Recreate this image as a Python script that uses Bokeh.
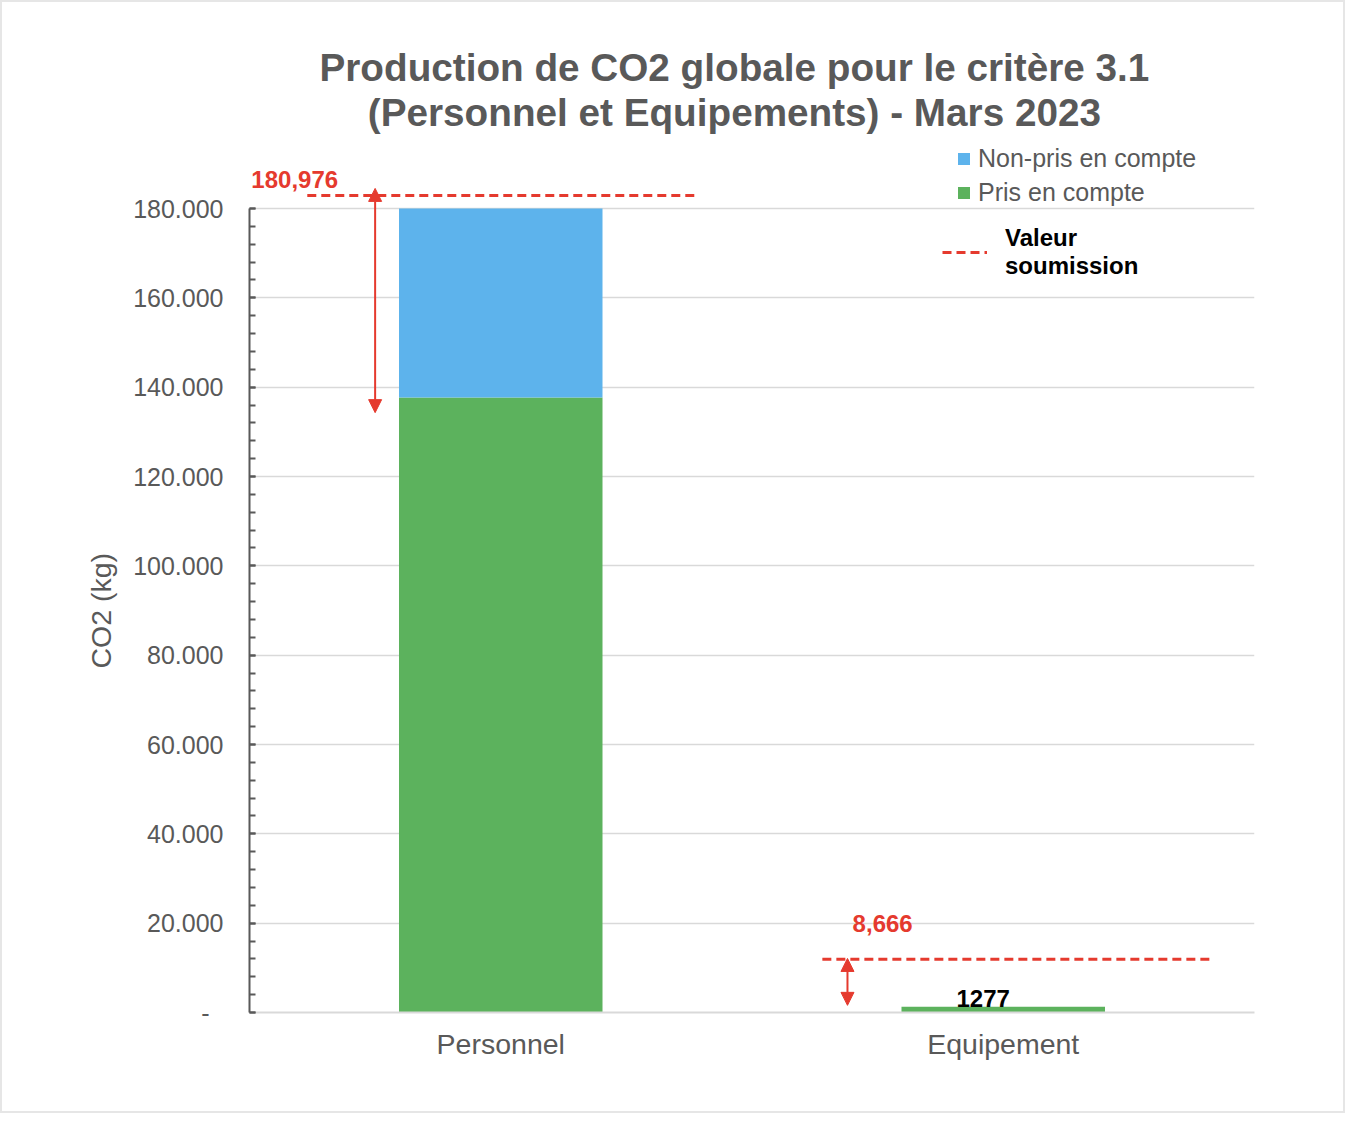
from bokeh.plotting import figure
from bokeh.models import (FactorRange, Range1d, FixedTicker, Legend, LegendItem,
                          Arrow, NormalHead, Label, ColumnDataSource, Title)
from bokeh.embed import file_html
from bokeh.resources import INLINE

# ---------------- data ----------------
categories = ["Personnel", "Equipement"]
pris_en_compte = [137700, 1277]
non_pris_en_compte = [42300, 0]
submission_labels = ["180,976", "8,666"]
submission_line_level = [182900, 11900]
arrow_top = [184500, 12100]
arrow_bottom = [134300, 1600]
y_ticks = [0, 20000, 40000, 60000, 80000, 100000, 120000, 140000, 160000, 180000]
y_tick_labels = ["-\u00a0\u00a0", "20.000", "40.000", "60.000", "80.000", "100.000",
                 "120.000", "140.000", "160.000", "180.000"]
y_minor_ticks = list(range(0, 180001, 4000))
bar_label = "1277"
title_lines = ["Production de CO2 globale pour le critère 3.1",
               "(Personnel et Equipements) - Mars 2023"]

# ---------------- style ----------------
FONT = "Liberation Sans"
GRAY = "#595959"
LIGHT = "#D9D9D9"
RED = "#E53A2E"
BLUE = "#5DB3EC"
GREEN = "#5CB25D"

# frame geometry: top of frame 30px, 180.000 at 208px, zero at 1012px
Y_END = 180000 * (1012 - 30) / (1012 - 208)

p = figure(x_range=FactorRange(*categories), y_range=Range1d(0, Y_END),
           width=1345, height=1113, output_backend="svg", toolbar_location=None,
           min_border_left=247, min_border_right=93, min_border_top=28,
           min_border_bottom=103)
p.outline_line_color = None
p.styles = {"border": "2px solid #E6E6E6"}
p.title.visible = False

# title lines, centred above the chart
TITLE_X = 0.965
for txt, dy in zip(title_lines, [-37, -82]):
    p.add_layout(Label(x=TITLE_X, y=Y_END, y_offset=dy, text=txt,
                       text_align="center", text_baseline="middle",
                       text_font=FONT, text_font_size="38.7px",
                       text_font_style="bold", text_color=GRAY))

src = ColumnDataSource(dict(cat=categories, pris=pris_en_compte,
                            non_pris=non_pris_en_compte))
bars = p.vbar_stack(["pris", "non_pris"], x="cat", width=0.405, source=src,
                    color=[GREEN, BLUE], line_color=None)

# submission lines (horizontal extent relative to each category centre)
seg_extent = [(-0.385, 0.39), (-0.36, 0.414)]
centres = [categories.index(c) + 0.5 for c in categories]
lsrc = ColumnDataSource(dict(
    x0=[c + e[0] for c, e in zip(centres, seg_extent)],
    x1=[c + e[1] for c, e in zip(centres, seg_extent)],
    level=submission_line_level))
seg = p.segment(x0="x0", x1="x1", y0="level", y1="level", source=lsrc,
                line_color=RED, line_width=3, line_dash="9 5")

# arrows
arrow_offsets = [-0.25, -0.31]
for i, c in enumerate(categories):
    xx = centres[i] + arrow_offsets[i]
    p.add_layout(Arrow(x_start=xx, y_start=arrow_bottom[i], x_end=xx, y_end=arrow_top[i],
                       line_color=RED, line_width=2,
                       start=NormalHead(size=13, fill_color=RED, line_color=RED),
                       end=NormalHead(size=13, fill_color=RED, line_color=RED)))

# submission value labels
label_offsets = [(-0.41, 8), (-0.24, 27)]
for i, c in enumerate(categories):
    p.add_layout(Label(x=centres[i] + label_offsets[i][0],
                       y=submission_line_level[i], y_offset=label_offsets[i][1],
                       text=submission_labels[i], text_align="center",
                       text_baseline="bottom", text_font=FONT, text_font_size="24px",
                       text_font_style="bold", text_color=RED))

# bar value label
p.add_layout(Label(x=centres[categories.index("Equipement")] - 0.04, y=pris_en_compte[1],
                   text=bar_label, text_align="center", text_baseline="bottom",
                   text_font=FONT, text_font_size="24px", text_font_style="bold",
                   text_color="black"))

# axes
yax = p.yaxis[0]
yax.ticker = FixedTicker(ticks=y_ticks, minor_ticks=y_minor_ticks)
yax.bounds = (0, 180000)
yax.major_label_overrides = {t: l for t, l in zip(y_ticks, y_tick_labels)}
yax.axis_line_color = GRAY
yax.axis_line_width = 2
yax.major_tick_line_color = GRAY
yax.minor_tick_line_color = GRAY
yax.major_tick_line_width = 2
yax.minor_tick_line_width = 2
yax.major_tick_in = 6
yax.major_tick_out = 0
yax.minor_tick_in = 6
yax.minor_tick_out = 0
yax.major_label_text_font = FONT
yax.major_label_text_font_size = "25px"
yax.major_label_text_color = GRAY
yax.major_label_standoff = 26

ytitle = Title(text="CO2 (kg)", align="left", offset=344, standoff=28,
               text_font=FONT, text_font_size="28.5px", text_font_style="normal",
               text_color=GRAY)
p.add_layout(ytitle, "left")

xax = p.xaxis[0]
xax.axis_line_color = LIGHT
xax.axis_line_width = 2
xax.major_tick_line_color = None
xax.minor_tick_line_color = None
xax.major_label_text_font = FONT
xax.major_label_text_font_size = "28.5px"
xax.major_label_text_color = GRAY
xax.major_label_standoff = 9

p.xgrid.visible = False
p.ygrid.ticker = FixedTicker(ticks=y_ticks)
p.ygrid.grid_line_color = LIGHT
p.ygrid.grid_line_width = 1.5

# legends
leg1 = Legend(items=[LegendItem(label="Non-pris en compte", renderers=[bars[1]]),
                     LegendItem(label="Pris en compte", renderers=[bars[0]])],
              location=(707, 805), margin=0, padding=0, spacing=5,
              glyph_width=15, glyph_height=15, label_height=25,
              label_standoff=7, label_text_font=FONT, label_text_font_size="25px",
              label_text_color=GRAY, border_line_color=None, background_fill_alpha=0)
leg2 = Legend(items=[LegendItem(label="Valeur\nsoumission", renderers=[seg])],
              location=(693, 732), margin=0, padding=0,
              glyph_width=45, glyph_height=20, label_standoff=18,
              label_text_font=FONT, label_text_font_size="24px",
              label_text_font_style="bold", label_text_color="black",
              border_line_color=None, background_fill_alpha=0)
p.add_layout(leg1)
p.add_layout(leg2)

open("out.html", "w").write(file_html(p, INLINE))
